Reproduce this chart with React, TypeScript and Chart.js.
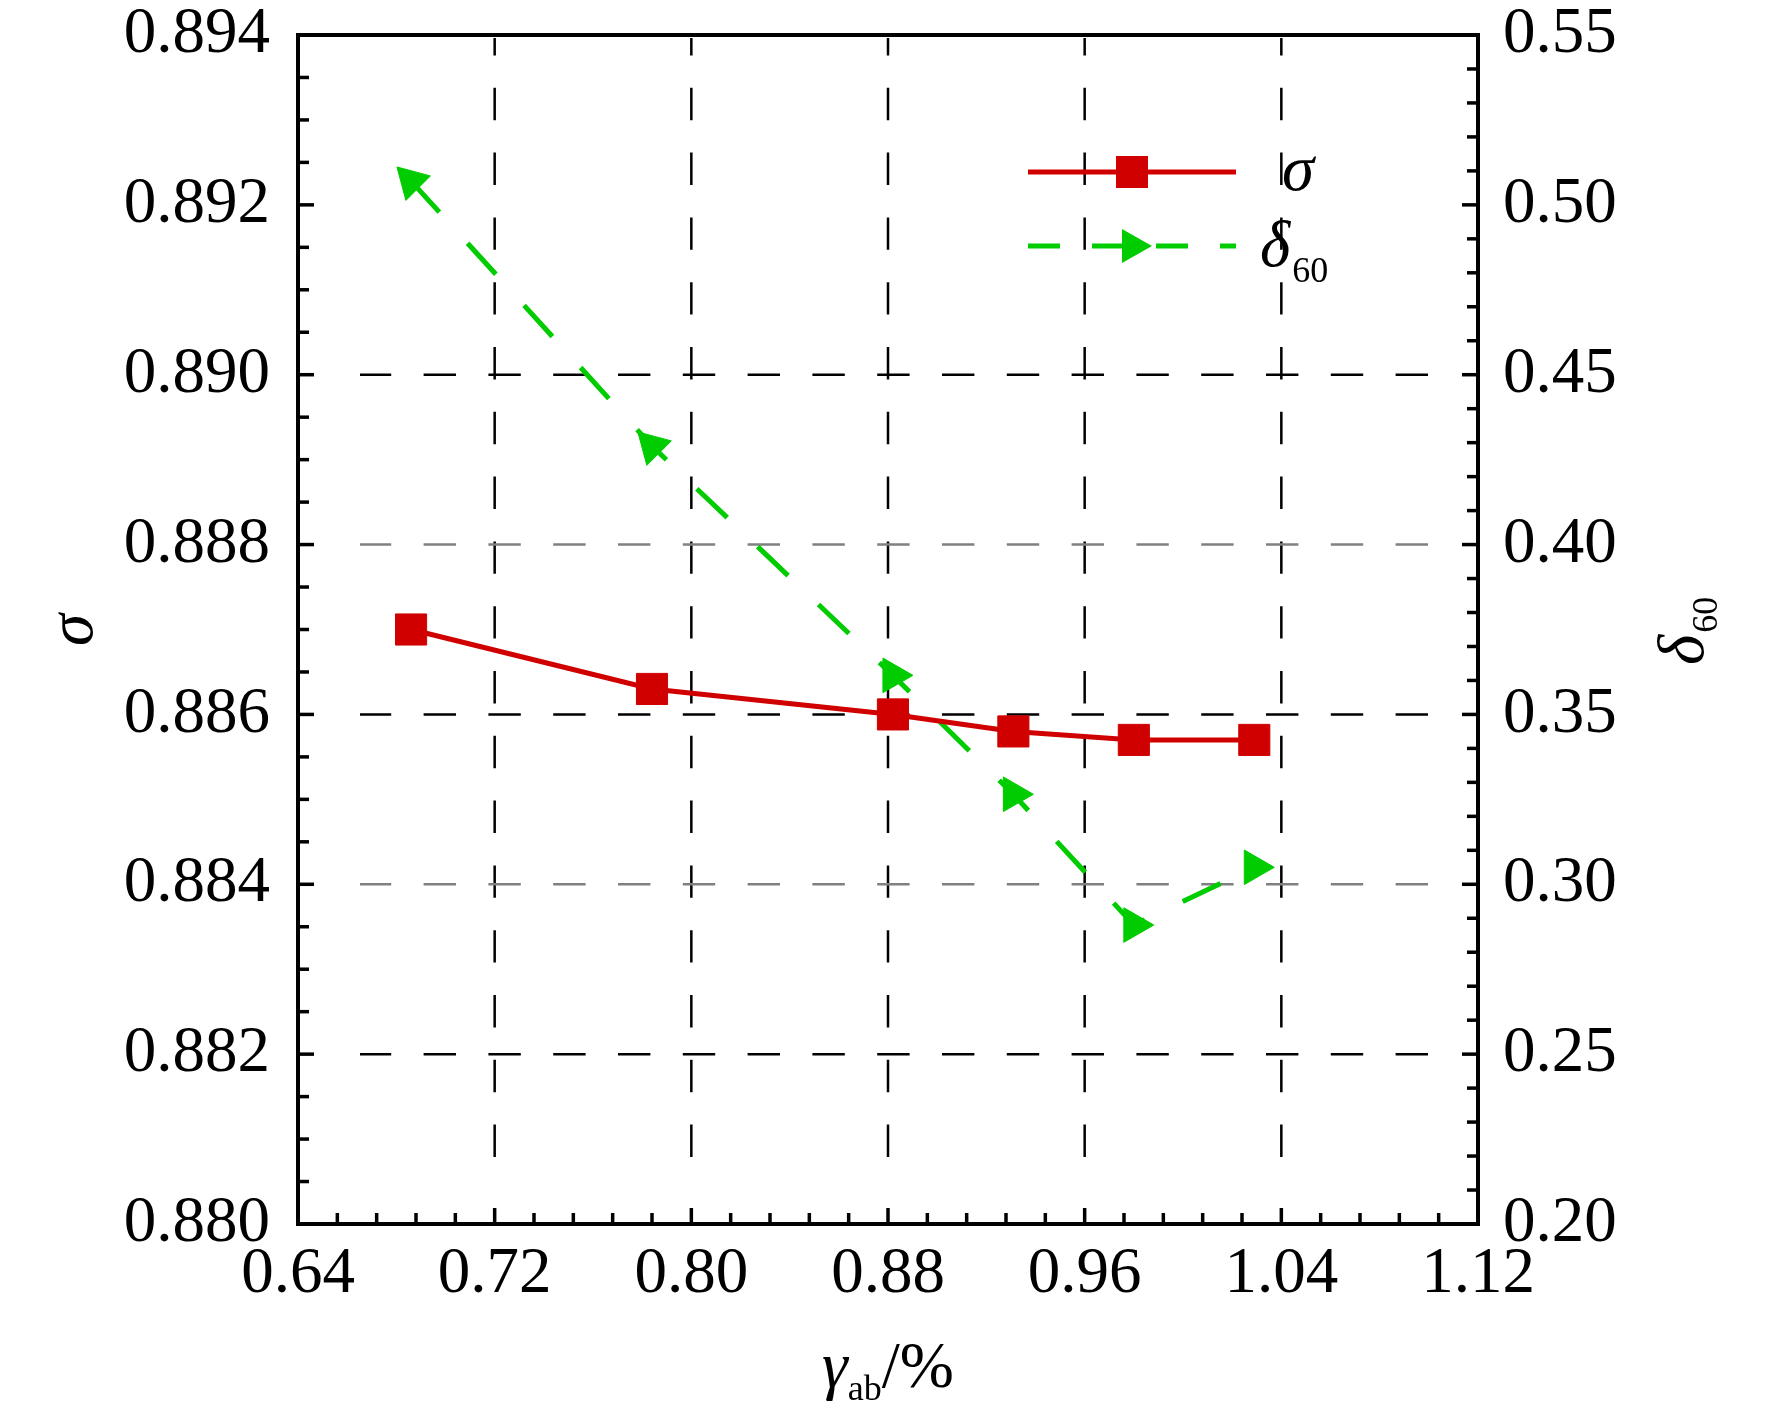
import Chart from "chart.js/auto";
import { useEffect, useRef } from "react";

// γab (%) on the x axis, σ on the left axis, δ60 on the right axis
const gammaAb: number[] = [0.686, 0.784, 0.882, 0.931, 0.98, 1.029];
const sigma: number[] = [0.887, 0.8863, 0.886, 0.8858, 0.8857, 0.8857];
const delta60: number[] = [0.507, 0.429, 0.3615, 0.3265, 0.288, 0.305];
// direction the arrow-shaped markers point to (degrees)
const deltaArrowAngle: number[] = [-45, -45, 90, 90, 90, 90];

const xTicks: number[] = [0.64, 0.72, 0.8, 0.88, 0.96, 1.04, 1.12];
const sigmaTicks: number[] = [0.88, 0.882, 0.884, 0.886, 0.888, 0.89, 0.892, 0.894];
const deltaTicks: number[] = [0.2, 0.25, 0.3, 0.35, 0.4, 0.45, 0.5, 0.55];

const xGridLines: number[] = [0.72, 0.8, 0.88, 0.96, 1.04];
const sigmaGridDark: number[] = [0.882, 0.886, 0.89];
const sigmaGridLight: number[] = [0.884, 0.888];

const RED = "#d00000";
const GREEN = "#00cc00";
const FONT = '"Liberation Serif", "Times New Roman", serif';

const minorValues = (major: number[], parts: number) => {
  const out: number[] = [];
  for (let i = 0; i < major.length - 1; i++) {
    const step = (major[i + 1] - major[i]) / parts;
    for (let k = 1; k < parts; k++) out.push(major[i] + k * step);
  }
  return out;
};

const decor = {
  id: "decor",
  beforeDatasetsDraw(chart: any) {
    const { ctx, chartArea: ca, scales } = chart;
    ctx.save();
    ctx.lineWidth = 2.5;
    ctx.setLineDash([32.4, 32.4]);
    ctx.strokeStyle = "#000";
    xGridLines.forEach((v) => {
      const px = scales.x.getPixelForValue(v);
      ctx.beginPath();
      ctx.moveTo(px, ca.bottom - 67);
      ctx.lineTo(px, ca.top + 3);
      ctx.stroke();
    });
    const hLine = (v: number, color: string) => {
      const py = scales.y.getPixelForValue(v);
      ctx.strokeStyle = color;
      ctx.beginPath();
      ctx.moveTo(ca.right - 50, py);
      ctx.lineTo(ca.left + 62, py);
      ctx.stroke();
    };
    sigmaGridDark.forEach((v) => hLine(v, "#000"));
    sigmaGridLight.forEach((v) => hLine(v, "#808080"));
    ctx.restore();
  },
  afterDatasetsDraw(chart: any) {
    const { ctx, chartArea: ca, scales } = chart;
    ctx.save();
    ctx.strokeStyle = "#000";
    ctx.lineWidth = 4;
    ctx.strokeRect(ca.left, ca.top, ca.right - ca.left, ca.bottom - ca.top);

    ctx.lineWidth = 3.5;
    const tick = (x1: number, y1: number, x2: number, y2: number) => {
      ctx.beginPath();
      ctx.moveTo(x1, y1);
      ctx.lineTo(x2, y2);
      ctx.stroke();
    };
    sigmaTicks.forEach((v) => {
      const py = scales.y.getPixelForValue(v);
      tick(ca.left, py, ca.left + 16, py);
    });
    minorValues(sigmaTicks, 4).forEach((v) => {
      const py = scales.y.getPixelForValue(v);
      tick(ca.left, py, ca.left + 11, py);
    });
    deltaTicks.forEach((v) => {
      const py = scales.y1.getPixelForValue(v);
      tick(ca.right, py, ca.right - 16, py);
    });
    minorValues(deltaTicks, 5).forEach((v) => {
      const py = scales.y1.getPixelForValue(v);
      tick(ca.right, py, ca.right - 11, py);
    });
    xTicks.forEach((v) => {
      const px = scales.x.getPixelForValue(v);
      tick(px, ca.bottom, px, ca.bottom - 16);
    });
    minorValues(xTicks, 5).forEach((v) => {
      const px = scales.x.getPixelForValue(v);
      tick(px, ca.bottom, px, ca.bottom - 11);
    });
    ctx.restore();
  },
  afterDraw(chart: any) {
    const { ctx, chartArea: ca } = chart;
    ctx.save();
    ctx.fillStyle = "#000";
    ctx.textAlign = "left";
    ctx.textBaseline = "alphabetic";

    // legend
    const lx = ca.left + 730;
    const r1 = ca.top + 137;
    const r2 = ca.top + 211;
    ctx.strokeStyle = RED;
    ctx.lineWidth = 5;
    ctx.beginPath();
    ctx.moveTo(lx, r1);
    ctx.lineTo(lx + 208, r1);
    ctx.stroke();
    ctx.fillStyle = RED;
    ctx.fillRect(lx + 88, r1 - 16, 32, 32);

    ctx.strokeStyle = GREEN;
    ctx.setLineDash([32, 32]);
    ctx.beginPath();
    ctx.moveTo(lx, r2);
    ctx.lineTo(lx + 208, r2);
    ctx.stroke();
    ctx.setLineDash([]);
    ctx.fillStyle = GREEN;
    ctx.beginPath();
    ctx.moveTo(lx + 94, r2 - 17);
    ctx.lineTo(lx + 124, r2);
    ctx.lineTo(lx + 94, r2 + 17);
    ctx.closePath();
    ctx.fill();

    ctx.fillStyle = "#000";
    ctx.font = `italic 65px ${FONT}`;
    ctx.fillText("σ", lx + 254, r1 + 18);
    ctx.fillText("δ", lx + 232, r2 + 20);
    const dW = ctx.measureText("δ").width;
    ctx.font = `36px ${FONT}`;
    ctx.fillText("60", lx + 232 + dW + 2, r2 + 36);

    // left axis title
    ctx.save();
    ctx.translate(92, ca.top + 595);
    ctx.rotate(-Math.PI / 2);
    ctx.textAlign = "center";
    ctx.font = `italic 65px ${FONT}`;
    ctx.fillText("σ", 0, 0);
    ctx.restore();

    // right axis title
    ctx.save();
    ctx.translate(1703, ca.top + 627);
    ctx.rotate(-Math.PI / 2);
    ctx.font = `italic 65px ${FONT}`;
    ctx.fillText("δ", -3, 0);
    const dW2 = ctx.measureText("δ").width;
    ctx.font = `36px ${FONT}`;
    ctx.fillText("60", dW2 - 1, 14);
    ctx.restore();

    // x axis title
    ctx.font = `italic 65px ${FONT}`;
    const gW = ctx.measureText("γ").width;
    ctx.font = `36px ${FONT}`;
    const abW = ctx.measureText("ab").width;
    ctx.font = `65px ${FONT}`;
    const pW = ctx.measureText("/%").width;
    let tx = (ca.left + ca.right) / 2 - (gW + abW + pW) / 2;
    const by = ca.bottom + 163;
    ctx.font = `italic 65px ${FONT}`;
    ctx.fillText("γ", tx, by);
    tx += gW;
    ctx.font = `36px ${FONT}`;
    ctx.fillText("ab", tx, by + 13);
    tx += abW;
    ctx.font = `65px ${FONT}`;
    ctx.fillText("/%", tx, by);
    ctx.restore();
  },
};

const tickFont = { family: FONT, size: 65, lineHeight: 1.2 };

const SigmaDeltaChart: React.FC = () => {
  const chartRef = useRef<HTMLCanvasElement | null>(null);

  useEffect(() => {
    if (!chartRef.current) return;
    const chart = new Chart(chartRef.current, {
      type: "line",
      data: {
        datasets: [
          {
            label: "σ",
            data: gammaAb.map((g, i) => ({ x: g, y: sigma[i] })),
            yAxisID: "y",
            borderColor: RED,
            backgroundColor: RED,
            borderWidth: 5,
            pointStyle: "rect",
            pointRadius: 22,
            pointBorderWidth: 1,
            pointBackgroundColor: RED,
            pointBorderColor: RED,
          },
          {
            label: "δ60",
            data: gammaAb.map((g, i) => ({ x: g, y: delta60[i] })),
            yAxisID: "y1",
            borderColor: GREEN,
            backgroundColor: GREEN,
            borderWidth: 5,
            borderDash: [42, 42],
            pointStyle: "triangle",
            pointRadius: 20,
            pointRotation: deltaArrowAngle,
            pointBorderWidth: 1,
            pointBackgroundColor: GREEN,
            pointBorderColor: GREEN,
          },
        ],
      },
      options: {
        animation: false,
        responsive: false,
        devicePixelRatio: 1,
        events: [],
        layout: { padding: { top: 35, left: 0, right: 0, bottom: 0 } },
        plugins: { legend: { display: false }, tooltip: { enabled: false } },
        scales: {
          x: {
            type: "linear",
            min: 0.64,
            max: 1.12,
            afterBuildTicks: (s: any) => {
              s.ticks = xTicks.map((v) => ({ value: v }));
            },
            afterFit: (s: any) => {
              s.height = 196;
              s.paddingLeft = 0;
              s.paddingRight = 0;
            },
            ticks: {
              autoSkip: false,
              maxRotation: 0,
              minRotation: 0,
              padding: 12,
              color: "#000",
              font: tickFont,
              callback: (v: any) => Number(v).toFixed(2),
            },
            grid: { display: false, drawTicks: false },
            border: { display: false },
          },
          y: {
            type: "linear",
            position: "left",
            min: 0.88,
            max: 0.894,
            afterBuildTicks: (s: any) => {
              s.ticks = sigmaTicks.map((v) => ({ value: v }));
            },
            afterFit: (s: any) => {
              s.width = 298;
              s.paddingTop = 0;
              s.paddingBottom = 0;
            },
            ticks: {
              autoSkip: false,
              padding: 28,
              color: "#000",
              font: tickFont,
              callback: (v: any) => Number(v).toFixed(3),
            },
            grid: { display: false, drawTicks: false },
            border: { display: false },
          },
          y1: {
            type: "linear",
            position: "right",
            min: 0.2,
            max: 0.55,
            afterBuildTicks: (s: any) => {
              s.ticks = deltaTicks.map((v) => ({ value: v }));
            },
            afterFit: (s: any) => {
              s.width = 294;
              s.paddingTop = 0;
              s.paddingBottom = 0;
            },
            ticks: {
              autoSkip: false,
              padding: 25,
              color: "#000",
              font: tickFont,
              callback: (v: any) => Number(v).toFixed(2),
            },
            grid: { display: false, drawTicks: false },
            border: { display: false },
          },
        },
      } as any,
      plugins: [decor],
    });
    return () => chart.destroy();
  }, []);

  return (
    <div style={{ position: "absolute", left: 0, top: 0, width: 1772, height: 1420, background: "#fff" }}>
      <canvas ref={chartRef} width={1772} height={1420} style={{ display: "block" }} />
    </div>
  );
};

export default function App() {
  return <SigmaDeltaChart />;
}
